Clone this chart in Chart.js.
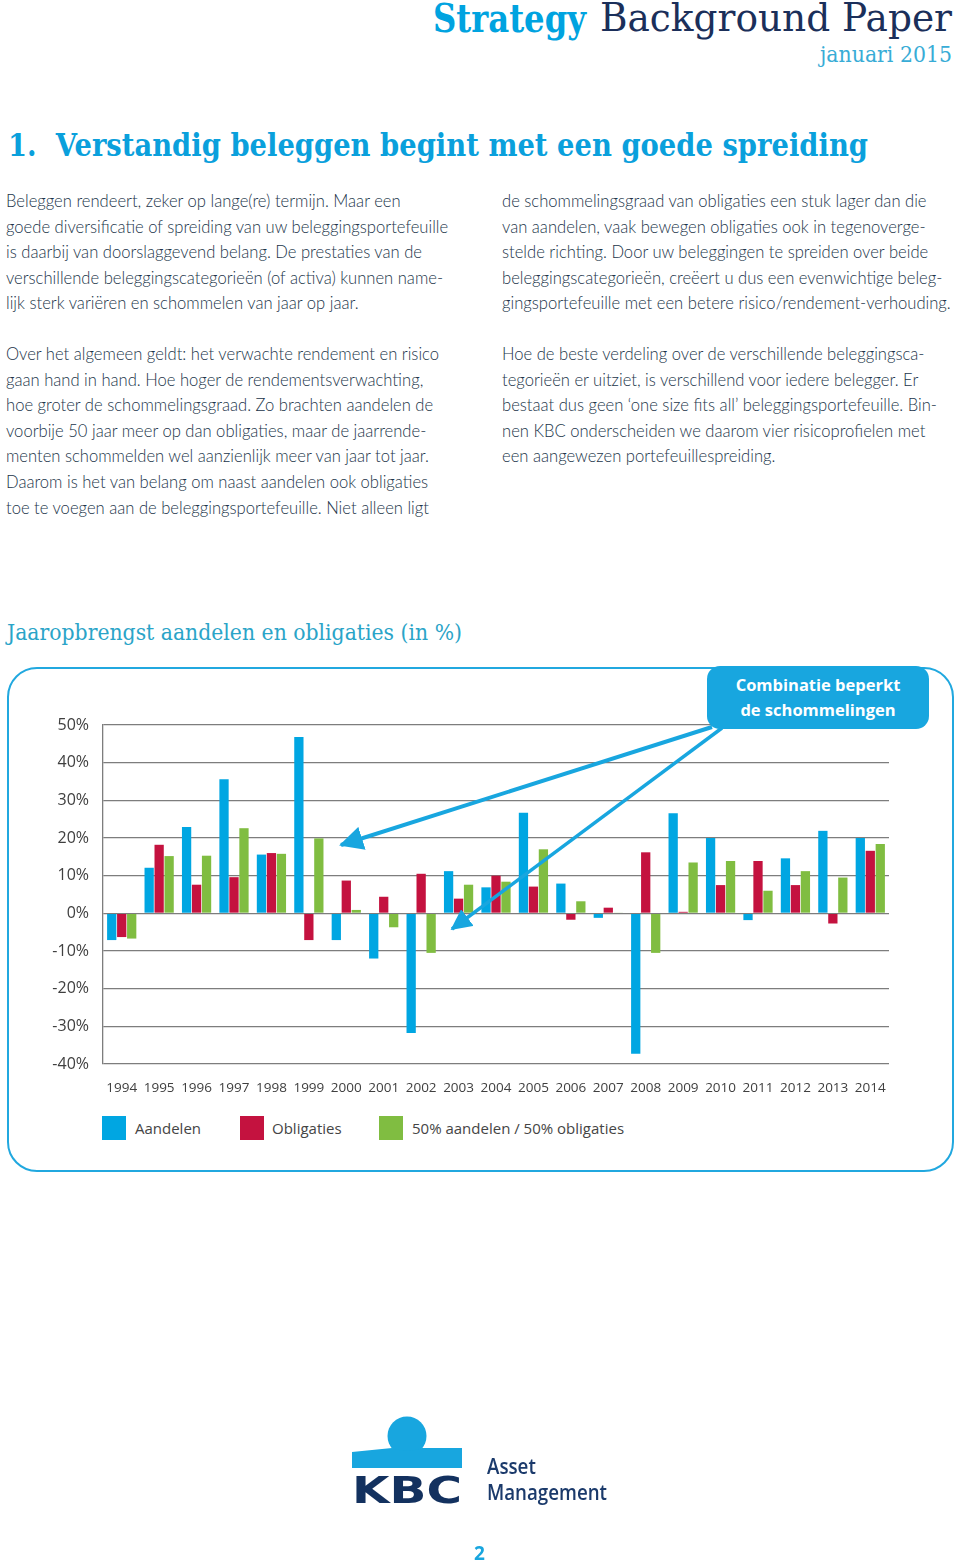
<!DOCTYPE html>
<html>
<head>
<meta charset="utf-8">
<script src="https://cdn.jsdelivr.net/npm/chart.js@4.4.1/dist/chart.umd.min.js"></script>
<style>
  html, body { margin: 0; padding: 0; background: #fff; }
  body { width: 960px; height: 1564px; position: relative; overflow: hidden; font-family: "Open Sans", sans-serif; }
  .abs { position: absolute; white-space: nowrap; transform-origin: 0 0; }
  .serif { font-family: "DejaVu Serif", serif; }
  .body-text { font-family: Lato, "Open Sans", sans-serif; font-weight: 300; font-size: 16.6px; line-height: 25.6px; color: #22354a; }
  #panel { position: absolute; left: 7px; top: 667px; width: 943px; height: 501px; border: 2.5px solid #21a8df; border-radius: 30px; }
  #callout { position: absolute; left: 707px; top: 666px; width: 222px; height: 63px; background: #18a6df; border-radius: 13px;
    color: #fff; font-family: "Open Sans", sans-serif; font-weight: 700; font-size: 16.5px; line-height: 25px; text-align: center; padding-top: 6px; box-sizing: border-box; }
  #chart { position: absolute; left: 0; top: 680px; }
  .leg-box { position: absolute; width: 24px; height: 24px; top: 1116px; }
  .leg-txt { position: absolute; top: 1118px; font-size: 15px; color: #454545; white-space: nowrap; }
</style>
</head>
<body>

<div class="abs serif" style="left:433px; top:-6px; font-size:40px; font-weight:bold; color:#00a3e0;" data-w="153">Strategy</div>
<div class="abs serif" style="left:600px; top:-6px; font-size:40px; color:#1b2f5a;" data-w="352">Background Paper</div>
<div class="abs serif" style="left:820px; top:42px; font-size:22px; color:#38acd6; font-weight:300;" data-w="132">januari 2015</div>

<div class="abs serif" style="left:8px; top:127px; font-size:31px; font-weight:bold; color:#0aa0dc;" data-w="860">1.&nbsp; Verstandig beleggen begint met een goede spreiding</div>

<div class="abs body-text" style="left:6px; top:189px;">
Beleggen rendeert, zeker op lange(re) termijn. Maar een<br>
goede diversificatie of spreiding van uw beleggingsportefeuille<br>
is daarbij van doorslaggevend belang. De prestaties van de<br>
verschillende beleggingscategorieën (of activa) kunnen name-<br>
lijk sterk variëren en schommelen van jaar op jaar.
</div>
<div class="abs body-text" style="left:6px; top:342px;">
Over het algemeen geldt: het verwachte rendement en risico<br>
gaan hand in hand. Hoe hoger de rendementsverwachting,<br>
hoe groter de schommelingsgraad. Zo brachten aandelen de<br>
voorbije 50 jaar meer op dan obligaties, maar de jaarrende-<br>
menten schommelden wel aanzienlijk meer van jaar tot jaar.<br>
Daarom is het van belang om naast aandelen ook obligaties<br>
toe te voegen aan de beleggingsportefeuille. Niet alleen ligt
</div>
<div class="abs body-text" style="left:502px; top:189px;">
de schommelingsgraad van obligaties een stuk lager dan die<br>
van aandelen, vaak bewegen obligaties ook in tegenoverge-<br>
stelde richting. Door uw beleggingen te spreiden over beide<br>
beleggingscategorieën, creëert u dus een evenwichtige beleg-<br>
gingsportefeuille met een betere risico/rendement-verhouding.
</div>
<div class="abs body-text" style="left:502px; top:342px;">
Hoe de beste verdeling over de verschillende beleggingsca-<br>
tegorieën er uitziet, is verschillend voor iedere belegger. Er<br>
bestaat dus geen ‘one size fits all’ beleggingsportefeuille. Bin-<br>
nen KBC onderscheiden we daarom vier risicoprofielen met<br>
een aangewezen portefeuillespreiding.
</div>

<div class="abs serif" style="left:7px; top:620px; font-size:22px; color:#2aa4c8;" data-w="455">Jaaropbrengst aandelen en obligaties (in %)</div>

<div id="panel"></div>
<canvas id="chart" width="960" height="420"></canvas>
<div id="legend"></div>

<svg style="position:absolute; left:0; top:0;" width="960" height="1564">
  <defs>
    <marker id="ah" markerWidth="6" markerHeight="6" refX="5.5" refY="3" orient="auto" markerUnits="strokeWidth">
      <path d="M0,0 L6,3 L0,6 z" fill="#18a6df"/>
    </marker>
  </defs>
  <line x1="712" y1="727" x2="341" y2="845" stroke="#18a6df" stroke-width="4" marker-end="url(#ah)"/>
  <line x1="722" y1="728" x2="452" y2="929" stroke="#18a6df" stroke-width="3.5" marker-end="url(#ah)"/>
</svg>
<div id="callout">Combinatie beperkt<br>de schommelingen</div>

<!-- KBC logo -->
<svg style="position:absolute; left:340px; top:1410px;" width="140" height="100">
  <circle cx="67" cy="26" r="19.5" fill="#18a6df"/>
  <path d="M12,42 L52,38 Q67,44 82,38 L122,38 L122,58 L12,58 z" fill="#18a6df"/>
  <text x="12" y="93" font-family="DejaVu Sans" font-weight="bold" font-size="38" fill="#13315f" textLength="110" lengthAdjust="spacingAndGlyphs">KBC</text>
</svg>
<div class="abs" style="left:487px; top:1452px; font-family:'Open Sans'; font-weight:600; font-size:22px; line-height:26px; color:#1b3a6b;" data-w="120">Asset<br>Management</div>
<div class="abs" style="left:474px; top:1540px; font-family:'Open Sans'; font-weight:700; font-size:19px; color:#18a6df;">2</div>

<script>
// text fitting helper for the page furniture
document.querySelectorAll('[data-w]').forEach(el => {
  const w = parseFloat(el.dataset.w);
  const cur = el.getBoundingClientRect().width;
  el.style.transform = 'scaleX(' + (w / cur) + ')';
});

const years = ['1994','1995','1996','1997','1998','1999','2000','2001','2002','2003','2004',
               '2005','2006','2007','2008','2009','2010','2011','2012','2013','2014'];
const aandelen   = [-7.1, 12.1, 22.9, 35.6, 15.6, 46.8, -7.1, -12.0, -31.8, 11.2, 6.9,
                    26.7, 7.9, -1.2, -37.3, 26.6, 20.0, -1.8, 14.6, 21.9, 20.0];
const obligaties = [-6.3, 18.2, 7.6, 9.6, 16.0, -7.1, 8.7, 4.4, 10.5, 3.9, 10.0,
                    7.1, -1.7, 1.5, 16.2, 0.4, 7.5, 13.9, 7.5, -2.7, 16.6];
const mix        = [-6.7, 15.2, 15.3, 22.6, 15.8, 19.9, 0.9, -3.7, -10.5, 7.6, 8.4,
                    17.0, 3.2, 0.2, -10.5, 13.5, 13.9, 6.0, 11.2, 9.5, 18.4];
const seriesNames = ['Aandelen', 'Obligaties', '50% aandelen / 50% obligaties'];
const seriesColors = ['#00a6e2', '#c4123f', '#80bd41'];
const yMin = -40, yMax = 50, yStep = 10;

// legend in html, positioned like the print layout
const legendPos = [[102, 135], [240, 272], [379, 412]];
const legend = document.getElementById('legend');
seriesNames.forEach((name, i) => {
  const b = document.createElement('div');
  b.className = 'leg-box';
  b.style.left = legendPos[i][0] + 'px';
  b.style.background = seriesColors[i];
  legend.appendChild(b);
  const t = document.createElement('div');
  t.className = 'leg-txt';
  t.style.left = legendPos[i][1] + 'px';
  t.textContent = name;
  legend.appendChild(t);
});

const ctx = document.getElementById('chart').getContext('2d');
const chart = new Chart(ctx, {
  type: 'bar',
  data: {
    labels: years,
    datasets: [aandelen, obligaties, mix].map((d, i) => ({
      label: seriesNames[i],
      data: d,
      backgroundColor: seriesColors[i],
      borderWidth: 0,
      categoryPercentage: 0.8,
      barPercentage: 0.93
    }))
  },
  options: {
    responsive: false,
    animation: false,
    devicePixelRatio: 1,
    layout: { padding: { top: 45, right: 71, bottom: 0, left: 0 } },
    plugins: {
      legend: { display: false },
      title: { display: false },
      tooltip: { enabled: false }
    },
    scales: {
      x: {
        grid: { display: false },
        border: { display: false },
        ticks: { color: '#404040', font: { family: 'Open Sans', size: 13.5 }, padding: 8, maxRotation: 0, autoSkip: false },
        afterFit: s => { s.height = 36; }
      },
      y: {
        min: yMin,
        max: yMax,
        grid: { color: '#7d7d7d', lineWidth: 1.3, drawTicks: false },
        border: { display: true, color: '#7d7d7d', width: 1.3 },
        ticks: {
          stepSize: yStep,
          color: '#404040',
          font: { family: 'Open Sans', size: 16 },
          padding: 14,
          callback: v => v + '%'
        },
        afterFit: s => { s.width = 103; }
      }
    }
  }
});
</script>
</body>
</html>
